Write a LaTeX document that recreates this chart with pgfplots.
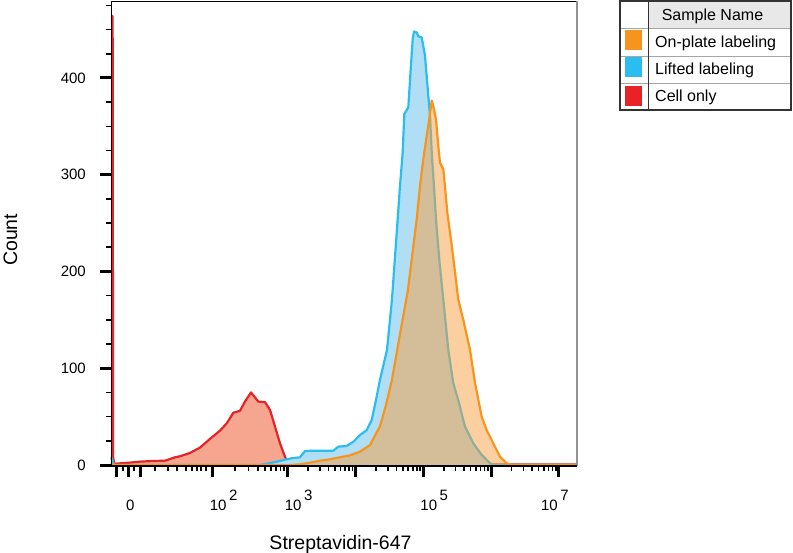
\documentclass[border=0pt]{standalone}
\usepackage{fontspec}
\setmainfont{Liberation Sans}
\usepackage{pgfplots}
\pgfplotsset{compat=1.18}

\definecolor{cellred}{RGB}{232,35,40}
\definecolor{cellfill}{RGB}{246,166,142}
\definecolor{liftblue}{RGB}{41,190,239}
\definecolor{liftfill}{RGB}{176,223,245}
\definecolor{plateorange}{RGB}{247,148,29}
\definecolor{platefill}{RGB}{249,159,65}
\definecolor{hdrgray}{RGB}{232,232,232}

\newcommand{\dec}[1]{10\,\raisebox{0.7em}{#1}}

\begin{document}
\begin{tikzpicture}[x=1pt,y=1pt]
\useasboundingbox (0,0) rectangle (793,553);
\begin{axis}[
    at={(111pt,87pt)}, anchor=south west,
    scale only axis, width=466pt, height=464.5pt,
    xmin=0.394, xmax=7.267, ymin=-1, ymax=479,
    axis line style={draw=none},
    tick align=outside, xtick pos=bottom, ytick pos=left,
    major tick length=11pt, minor tick length=5pt,
    tick style={draw=none},
    /pgf/number format/assume math mode=true,
    xtick={0.482,0.659,0.822,1.894,3,4,5,6,7},
    xticklabels={,0,,\dec{2},\dec{3},,\dec{5},,\hspace*{-15pt}\dec{7}},
    ytick={0,100,200,300,400},
    xticklabel style={font=\fontsize{15}{15}\selectfont, anchor=base west, inner sep=0pt, xshift=-3pt, yshift=-34pt},
    yticklabel style={font=\fontsize{15}{15}\selectfont, anchor=east, inner sep=0pt, xshift=-14pt},
    xlabel={Streptavidin-647}, ylabel={Count},
    xlabel style={font=\fontsize{19.5}{19.5}\selectfont, at={(axis description cs:0.4925,0)}, anchor=base, yshift=-83.3pt},
    ylabel style={font=\fontsize{19.5}{19.5}\selectfont, at={(axis description cs:-0.2017,0.487)}, anchor=base},
    clip=false,
]
% Cell only
\addplot[draw=none, fill=cellfill] coordinates {
(0.394,464) (0.418,464) (0.425,8) (0.445,1) (0.482,1.5) (0.674,2.5) (0.822,3.5) (0.969,4)
(1.190,4.5) (1.234,5.5) (1.338,8) (1.411,9) (1.559,12.5) (1.706,18) (1.854,27) (2.001,35.5)
(2.100,43) (2.198,54) (2.296,56) (2.370,65.6) (2.459,75) (2.566,65.6) (2.665,65) (2.739,57)
(2.813,39.7) (2.886,22.5) (2.960,8.6) (3.009,1.8) (3.108,0.5) (7.267,0.5)
} \closedcycle;
\addplot[cellred, line width=2.2pt, line join=round] coordinates {
(0.394,464) (0.418,464) (0.425,8) (0.445,1) (0.482,1.5) (0.674,2.5) (0.822,3.5) (0.969,4)
(1.190,4.5) (1.234,5.5) (1.338,8) (1.411,9) (1.559,12.5) (1.706,18) (1.854,27) (2.001,35.5)
(2.100,43) (2.198,54) (2.296,56) (2.370,65.6) (2.459,75) (2.566,65.6) (2.665,65) (2.739,57)
(2.813,39.7) (2.886,22.5) (2.960,8.6) (3.009,1.8) (3.108,0.5) (7.267,0.5)
};
% Lifted labeling
\addplot[draw=none, fill=liftfill] coordinates {
(0.394,8) (0.409,6) (0.438,0) (2.600,0) (2.640,0.7) (2.838,3.4) (2.985,5.9) (3.059,7)
(3.181,8) (3.255,14.5) (3.378,14.8) (3.673,14.8) (3.746,19) (3.870,19.7) (3.968,24) (4.066,31)
(4.165,36) (4.239,46.6) (4.313,70.8) (4.361,88) (4.465,119) (4.538,171) (4.622,254) (4.656,288)
(4.696,323) (4.720,362.7) (4.779,369.6) (4.814,409) (4.844,440) (4.863,448) (4.903,447) (4.926,443)
(4.976,442) (5.000,433) (5.025,423) (5.050,402) (5.074,381.6) (5.099,361) (5.124,323) (5.158,288)
(5.187,254) (5.239,210) (5.295,171) (5.369,119) (5.442,84.7) (5.516,67) (5.615,39.7) (5.737,22.5)
(5.861,10.4) (5.984,1.8) (6.058,0) (7.267,0)
} \closedcycle;
\addplot[liftblue, line width=2.2pt, line join=round] coordinates {
(0.394,8) (0.409,6) (0.438,0) (2.600,0) (2.640,0.7) (2.838,3.4) (2.985,5.9) (3.059,7)
(3.181,8) (3.255,14.5) (3.378,14.8) (3.673,14.8) (3.746,19) (3.870,19.7) (3.968,24) (4.066,31)
(4.165,36) (4.239,46.6) (4.313,70.8) (4.361,88) (4.465,119) (4.538,171) (4.622,254) (4.656,288)
(4.696,323) (4.720,362.7) (4.779,369.6) (4.814,409) (4.844,440) (4.863,448) (4.903,447) (4.926,443)
(4.976,442) (5.000,433) (5.025,423) (5.050,402) (5.074,381.6) (5.099,361) (5.124,323) (5.158,288)
(5.187,254) (5.239,210) (5.295,171) (5.369,119) (5.442,84.7) (5.516,67) (5.615,39.7) (5.737,22.5)
(5.861,10.4) (5.984,1.8) (6.058,0) (7.267,0)
};
% On-plate labeling
\addplot[draw=none, fill=platefill, fill opacity=0.5] coordinates {
(0.394,1) (0.409,1) (0.468,0) (3.034,0) (3.181,0.7) (3.329,2.4) (3.476,4.5) (3.624,5.9)
(3.771,8) (3.919,10) (4.066,13.8) (4.214,20.7) (4.361,40) (4.450,62) (4.538,88) (4.656,135)
(4.774,181) (4.848,223) (4.903,254) (4.951,288) (5.000,316) (5.050,340) (5.088,357.5) (5.124,376.5)
(5.147,371) (5.187,357.5) (5.221,330) (5.246,312.5) (5.295,305.7) (5.320,288) (5.354,261) (5.423,225)
(5.475,195) (5.516,171) (5.590,150) (5.689,119) (5.763,84.7) (5.861,50) (5.935,36) (6.032,22.5)
(6.131,8.6) (6.230,1.8) (6.304,0) (7.267,0)
} \closedcycle;
\addplot[plateorange, line width=2.2pt, line join=round] coordinates {
(0.394,1) (0.409,1) (0.468,0) (3.034,0) (3.181,0.7) (3.329,2.4) (3.476,4.5) (3.624,5.9)
(3.771,8) (3.919,10) (4.066,13.8) (4.214,20.7) (4.361,40) (4.450,62) (4.538,88) (4.656,135)
(4.774,181) (4.848,223) (4.903,254) (4.951,288) (5.000,316) (5.050,340) (5.088,357.5) (5.124,376.5)
(5.147,371) (5.187,357.5) (5.221,330) (5.246,312.5) (5.295,305.7) (5.320,288) (5.354,261) (5.423,225)
(5.475,195) (5.516,171) (5.590,150) (5.689,119) (5.763,84.7) (5.861,50) (5.935,36) (6.032,22.5)
(6.131,8.6) (6.230,1.8) (6.304,0) (7.267,0)
};
% frame
\draw[black, line width=0.8pt] (rel axis cs:0,0) -- (rel axis cs:0,1) -- (rel axis cs:1,1);
\draw[gray!85, line width=2.6pt] (rel axis cs:1,1) -- (rel axis cs:1,0);
\draw[black, line width=1.6pt] (rel axis cs:0,0) -- (rel axis cs:1,0);
% tick marks as filled bars
\pgfplotsinvokeforeach{0.482,0.659,0.822,1.894,3,4,5,6,7}{
  \fill[black] (axis cs:#1,-1) ++(-1.5pt,0pt) rectangle ++(3pt,-11pt);}
\pgfplotsinvokeforeach{0.571,0.733,1.043,1.234,1.366,1.500,1.589,1.662,1.721,1.795,
    2.227,2.422,2.560,2.667,2.754,2.829,2.893,2.949,
    3.301,3.477,3.602,3.699,3.778,3.845,3.903,3.954,
    4.301,4.477,4.602,4.699,4.778,4.845,4.903,4.954,
    5.301,5.477,5.602,5.699,5.778,5.845,5.903,5.954,
    6.301,6.477,6.602,6.699,6.778,6.845,6.903,6.954}{
  \fill[black] (axis cs:#1,-1) ++(-0.8pt,0pt) rectangle ++(1.6pt,-5pt);}
\pgfplotsinvokeforeach{0,100,200,300,400}{
  \fill[black] (axis cs:0.394,#1) ++(0pt,-1.5pt) rectangle ++(-11pt,3pt);}
\pgfplotsinvokeforeach{25,50,75,125,150,175,225,250,275,325,350,375,425,450,475}{
  \fill[black] (axis cs:0.394,#1) ++(0pt,-0.8pt) rectangle ++(-5pt,1.6pt);}
\end{axis}

% legend table
\fill[hdrgray] (648,525) rectangle (791,552);
\draw[gray!70, line width=0.8pt] (620,525) -- (791,525) (620,497) -- (791,497) (620,470) -- (791,470);
\draw[black!80, line width=1.4pt] (620,443) rectangle (791,552);
\draw[black!80, line width=1pt] (648,443) -- (648,552);
\fill[plateorange] (625,503) rectangle (642,523);
\fill[liftblue] (625,476) rectangle (642,496);
\fill[cellred] (625,447) rectangle (642,467);
\begin{scope}[every node/.style={font=\fontsize{16}{16}\selectfont, inner sep=0pt}]
\node[anchor=base] at (712.5,532) {Sample Name};
\node[anchor=base west] at (655,505) {On-plate labeling};
\node[anchor=base west] at (655,478) {Lifted labeling};
\node[anchor=base west] at (655,451) {Cell only};
\end{scope}
\end{tikzpicture}
\end{document}
